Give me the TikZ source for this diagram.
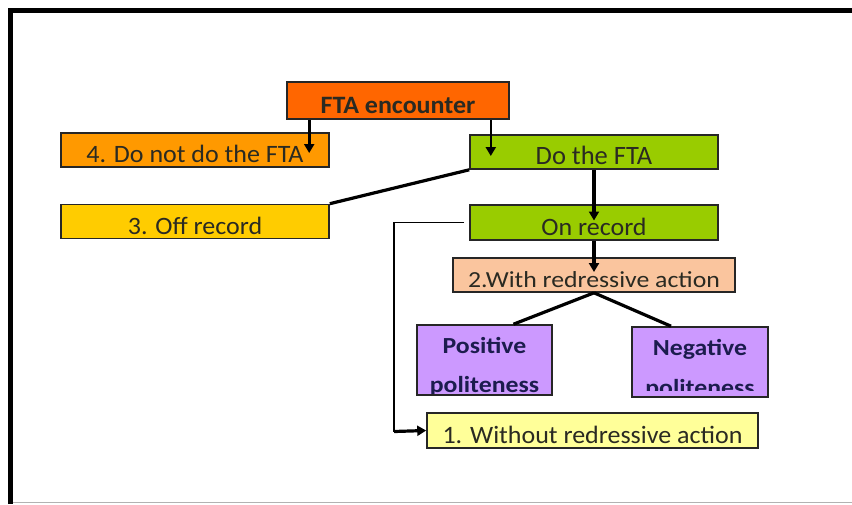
\documentclass[tikz,border=0pt]{standalone}
\usepackage{fontspec}
\setmainfont{Carlito}
\newfontfamily\fnorm{Carlito}[FakeStretch=1.04]
\newfontfamily\fwide{Carlito}[FakeStretch=1.12]
\usetikzlibrary{arrows.meta,calc}
\definecolor{ftaC}{HTML}{FF6600}
\definecolor{dontC}{HTML}{FF9900}
\definecolor{doC}{HTML}{99CC00}
\definecolor{offC}{HTML}{FFCC00}
\definecolor{withC}{HTML}{FAC59E}
\definecolor{polC}{HTML}{CC99FF}
\definecolor{woC}{HTML}{FFFF99}
\definecolor{txt}{HTML}{2A2A22}
\definecolor{navy}{HTML}{1C1C4E}
\begin{document}
\begin{tikzpicture}[x=1pt,y=-1pt,
  box/.style={draw=black!85, line width=1.6pt, rectangle, inner sep=0pt,
    text height=25pt, text depth=0pt, font=\fnorm\fontsize{25}{30}\selectfont, text=txt},
  poltext/.style={draw=none, fill=none, anchor=base, inner sep=0pt,
    font=\fwide\fontsize{23}{28}\selectfont\bfseries, text=navy},
  conn/.style={line width=3.2pt, black},
  arr/.style={conn, -{Triangle[width=10pt,length=9pt]}},
  thinconn/.style={line width=1.5pt, black}
]
\fill[white] (0,0) rectangle (852,504);
\useasboundingbox (0,0) rectangle (852,504);
% frame
\draw[line width=5.5pt] (10.5,504) -- (10.5,10.5) -- (852,10.5);
\draw[gray!60, line width=1.5pt] (13,502.5) -- (852,502.5);

% boxes
\node[box, fill=ftaC, minimum width=222pt, minimum height=37pt,
  font=\fnorm\fontsize{25}{30}\selectfont\bfseries] (fta) at (398,100.5) {FTA encounter};
\node[box, fill=dontC, minimum width=268pt, minimum height=34pt] (dont) at (195,150) {4. Do not do the FTA};
\node[box, fill=doC, minimum width=248pt, minimum height=34pt,
  font=\fontsize{26.5}{30}\selectfont] (do) at (594,152) {Do the FTA};
\node[box, fill=offC, minimum width=268pt, minimum height=34pt] (off) at (195,221.5) {3. Off record};
\node[box, fill=doC, minimum width=248pt, minimum height=35pt] (on) at (594,222.5) {On record};
\node[box, fill=withC, minimum width=282pt, minimum height=34pt,
  font=\fwide\fontsize{23}{28}\selectfont] (with) at (594,275) {2.With redressive action};
\node[box, fill=polC, minimum width=135pt, minimum height=70pt,
  path picture={
    \node[poltext] at ($(path picture bounding box.north)+(0,28)$) {Positive};
    \node[poltext] at ($(path picture bounding box.north)+(0,67)$) {politeness};
  }] (pos) at (484.5,360) {};
\node[box, fill=polC, minimum width=136pt, minimum height=70pt,
  path picture={
    \clip (path picture bounding box.north west) rectangle ($(path picture bounding box.south east)+(0,-7)$);
    \node[poltext] at ($(path picture bounding box.north)+(0,28)$) {Negative};
    \node[poltext] at ($(path picture bounding box.north)+(0,68)$) {politeness};
  }] (neg) at (700,362) {};
\node[box, fill=woC, minimum width=331pt, minimum height=35pt] (without) at (592.5,430.5) {1. Without redressive action};

% connectors
\draw[arr] ($(fta.south west)+(23,0)$) -- ($(fta.south west |- dont.center)+(23,3)$);
\draw[arr, line width=2.6pt] ($(fta.south east)+(-19,0)$) -- ($(fta.south east |- do.center)+(-19,4)$);
\draw[conn] (do.south west) -- (off.north east);
\draw[arr] (do.south) -- ($(on.center)+(0,-2)$);
\draw[arr] (on.south) -- ($(with.center)+(0,-3)$);
\draw[conn] (with.south) -- ($(pos.north)+(29,0)$);
\draw[conn] (with.south) -- ($(neg.north)+(-29,0)$);
\coordinate (loopc) at ($(on.west |- without.west)+(-75,1)$);
\draw[thinconn] ($(on.west)+(-5,0)$) -- ($(on.west)+(-75,0)$) -- (loopc);
\draw[arr] (loopc) -- (without.west);
\end{tikzpicture}
\end{document}
